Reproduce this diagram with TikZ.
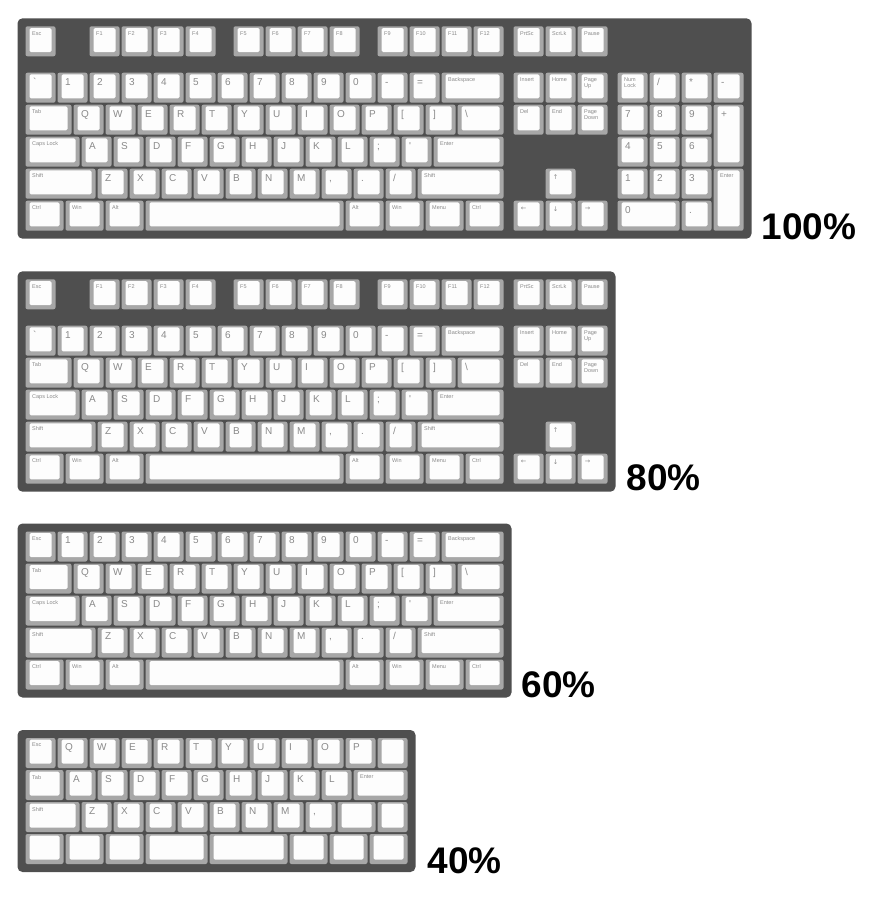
\documentclass[tikz,border=0pt]{standalone}
\usepackage{fontspec}
\newfontfamily\keyfont{Liberation Sans}
\newfontfamily\arrowfont{DejaVu Sans}
\newfontfamily\pctfont{Liberation Sans}
\definecolor{casecol}{HTML}{4F4F4F}
\definecolor{keyside}{HTML}{A7A7A7}
\definecolor{keytop}{HTML}{FDFDFD}
\definecolor{lblcol}{HTML}{8A8A8A}
\tikzset{
 kcase/.style={fill=casecol,rounded corners=5pt},
 kside/.style={fill=keyside,rounded corners=2pt},
 ktop/.style={fill=keytop,rounded corners=1.5pt},
 biglbl/.style={anchor=base west,inner sep=0pt,font=\keyfont\fontsize{10}{10}\selectfont,text=lblcol},
 smllbl/.style={anchor=north west,inner sep=0pt,align=left,font=\keyfont\fontsize{5.5}{6}\selectfont,text=lblcol},
 arrlbl/.style={anchor=center,inner sep=0pt,font=\arrowfont\fontsize{6.5}{6.5}\selectfont,text=lblcol},
 pct/.style={anchor=base west,inner sep=0pt,font=\pctfont\bfseries\fontsize{37}{37}\selectfont,text=black}
}
\newcounter{kbn}
\newcommand\kbstart[2]{\xdef\kbx{#1}\xdef\kby{#2}}
\newcommand\kbskip[1]{\pgfmathsetmacro\kbtmp{\kbx+#1*32}\xdef\kbx{\kbtmp}}
\newcommand\kbk[4][1]{%
  \pgfmathsetmacro\kbw{#2*32-2}%
  \pgfmathsetmacro\kbh{#1*32-2}%
  \fill[kside] (\kbx,\kby) rectangle ++(\kbw,\kbh);
  \fill[ktop] (\kbx+4,\kby+1.7) rectangle ++(\kbw-8,\kbh-6);
  \stepcounter{kbn}%
  \ifx#3B\node[biglbl] (l\arabic{kbn}) at (\kbx+7.5,\kby+12.3) {#4};\fi
  \ifx#3S\node[smllbl] (l\arabic{kbn}) at (\kbx+6.5,\kby+5) {#4};\fi
  \ifx#3A\node[arrlbl] (l\arabic{kbn}) at (\kbx+10,\kby+8) {#4};\fi
  \kbskip{#2}}
% main block rows
\newcommand\mainA[3]{\kbstart{25.5}{#1}%
  \kbk{1}{#2}{#3}\kbk{1}{B}{1}\kbk{1}{B}{2}\kbk{1}{B}{3}\kbk{1}{B}{4}\kbk{1}{B}{5}%
  \kbk{1}{B}{6}\kbk{1}{B}{7}\kbk{1}{B}{8}\kbk{1}{B}{9}\kbk{1}{B}{0}\kbk{1}{B}{-}%
  \kbk{1}{B}{=}\kbk{2}{S}{Backspace}}
\newcommand\mainB[1]{\kbstart{25.5}{#1}%
  \kbk{1.5}{S}{Tab}\kbk{1}{B}{Q}\kbk{1}{B}{W}\kbk{1}{B}{E}\kbk{1}{B}{R}\kbk{1}{B}{T}%
  \kbk{1}{B}{Y}\kbk{1}{B}{U}\kbk{1}{B}{I}\kbk{1}{B}{O}\kbk{1}{B}{P}\kbk{1}{B}{[}%
  \kbk{1}{B}{]}\kbk{1.5}{B}{\textbackslash}}
\newcommand\mainC[1]{\kbstart{25.5}{#1}%
  \kbk{1.75}{S}{Caps Lock}\kbk{1}{B}{A}\kbk{1}{B}{S}\kbk{1}{B}{D}\kbk{1}{B}{F}\kbk{1}{B}{G}%
  \kbk{1}{B}{H}\kbk{1}{B}{J}\kbk{1}{B}{K}\kbk{1}{B}{L}\kbk{1}{B}{;}\kbk{1}{B}{'}%
  \kbk{2.25}{S}{Enter}}
\newcommand\mainD[1]{\kbstart{25.5}{#1}%
  \kbk{2.25}{S}{Shift}\kbk{1}{B}{Z}\kbk{1}{B}{X}\kbk{1}{B}{C}\kbk{1}{B}{V}\kbk{1}{B}{B}%
  \kbk{1}{B}{N}\kbk{1}{B}{M}\kbk{1}{B}{,}\kbk{1}{B}{.}\kbk{1}{B}{/}%
  \kbk{2.75}{S}{Shift}}
\newcommand\mainE[1]{\kbstart{25.5}{#1}%
  \kbk{1.25}{S}{Ctrl}\kbk{1.25}{S}{Win}\kbk{1.25}{S}{Alt}\kbk{6.25}{N}{}%
  \kbk{1.25}{S}{Alt}\kbk{1.25}{S}{Win}\kbk{1.25}{S}{Menu}\kbk{1.25}{S}{Ctrl}}
\newcommand\frow[1]{\kbstart{25.5}{#1}%
  \kbk{1}{S}{Esc}\kbskip{1}%
  \kbk{1}{S}{F1}\kbk{1}{S}{F2}\kbk{1}{S}{F3}\kbk{1}{S}{F4}\kbskip{0.5}%
  \kbk{1}{S}{F5}\kbk{1}{S}{F6}\kbk{1}{S}{F7}\kbk{1}{S}{F8}\kbskip{0.5}%
  \kbk{1}{S}{F9}\kbk{1}{S}{F10}\kbk{1}{S}{F11}\kbk{1}{S}{F12}\kbskip{0.25}%
  \kbk{1}{S}{PrtSc}\kbk{1}{S}{ScrLk}\kbk{1}{S}{Pause}}
\begin{document}
\begin{tikzpicture}[x=1pt,y=-1pt]
\useasboundingbox (0,0) rectangle (877,900);
% ===== 100% =====
\fill[kcase] (17.5,18.3) rectangle (751.5,238.7);
\frow{26.3}
\mainA{72.7}{B}{\symbol{96}}\kbskip{0.25}\kbk{1}{S}{Insert}\kbk{1}{S}{Home}\kbk{1}{S}{Page\\Up}%
 \kbskip{0.25}\kbk{1}{S}{Num\\Lock}\kbk{1}{B}{/}\kbk{1}{B}{*}\kbk{1}{B}{-}
\mainB{104.7}\kbskip{0.25}\kbk{1}{S}{Del}\kbk{1}{S}{End}\kbk{1}{S}{Page\\Down}%
 \kbskip{0.25}\kbk{1}{B}{7}\kbk{1}{B}{8}\kbk{1}{B}{9}\kbk[2]{1}{B}{+}
\mainC{136.7}\kbskip{3.5}\kbk{1}{B}{4}\kbk{1}{B}{5}\kbk{1}{B}{6}
\mainD{168.7}\kbskip{1.25}\kbk{1}{A}{↑}\kbskip{1.25}\kbk{1}{B}{1}\kbk{1}{B}{2}\kbk{1}{B}{3}\kbk[2]{1}{S}{Enter}
\mainE{200.7}\kbskip{0.25}\kbk{1}{A}{←}\kbk{1}{A}{↓}\kbk{1}{A}{→}%
 \kbskip{0.25}\kbk{2}{B}{0}\kbk{1}{B}{.}
\node[pct] (p100) at (761.5,239) {100\%};
% ===== 80% =====
\fill[kcase] (17.5,271.3) rectangle (615.5,491.7);
\frow{279.3}
\mainA{325.7}{B}{\symbol{96}}\kbskip{0.25}\kbk{1}{S}{Insert}\kbk{1}{S}{Home}\kbk{1}{S}{Page\\Up}
\mainB{357.7}\kbskip{0.25}\kbk{1}{S}{Del}\kbk{1}{S}{End}\kbk{1}{S}{Page\\Down}
\mainC{389.7}
\mainD{421.7}\kbskip{1.25}\kbk{1}{A}{↑}
\mainE{453.7}\kbskip{0.25}\kbk{1}{A}{←}\kbk{1}{A}{↓}\kbk{1}{A}{→}
\node[pct] (p80) at (626.5,490.7) {80\%};
% ===== 60% =====
\fill[kcase] (17.5,523.5) rectangle (511.5,697.5);
\mainA{531.5}{S}{Esc}
\mainB{563.5}
\mainC{595.5}
\mainD{627.5}
\mainE{659.5}
\node[pct] (p60) at (521.5,697.3) {60\%};
% ===== 40% =====
\fill[kcase] (17.5,730) rectangle (415.5,872);
\kbstart{25.5}{738}
\kbk{1}{S}{Esc}\kbk{1}{B}{Q}\kbk{1}{B}{W}\kbk{1}{B}{E}\kbk{1}{B}{R}\kbk{1}{B}{T}%
\kbk{1}{B}{Y}\kbk{1}{B}{U}\kbk{1}{B}{I}\kbk{1}{B}{O}\kbk{1}{B}{P}\kbk{1}{N}{}
\kbstart{25.5}{770}
\kbk{1.25}{S}{Tab}\kbk{1}{B}{A}\kbk{1}{B}{S}\kbk{1}{B}{D}\kbk{1}{B}{F}\kbk{1}{B}{G}%
\kbk{1}{B}{H}\kbk{1}{B}{J}\kbk{1}{B}{K}\kbk{1}{B}{L}\kbk{1.75}{S}{Enter}
\kbstart{25.5}{802}
\kbk{1.75}{S}{Shift}\kbk{1}{B}{Z}\kbk{1}{B}{X}\kbk{1}{B}{C}\kbk{1}{B}{V}\kbk{1}{B}{B}%
\kbk{1}{B}{N}\kbk{1}{B}{M}\kbk{1}{B}{,}\kbk{1.25}{N}{}\kbk{1}{N}{}
\kbstart{25.5}{834}
\kbk{1.25}{N}{}\kbk{1.25}{N}{}\kbk{1.25}{N}{}\kbk{2}{N}{}\kbk{2.5}{N}{}%
\kbk{1.25}{N}{}\kbk{1.25}{N}{}\kbk{1.25}{N}{}
\node[pct] (p40) at (427.5,873.3) {40\%};
\end{tikzpicture}
\end{document}
